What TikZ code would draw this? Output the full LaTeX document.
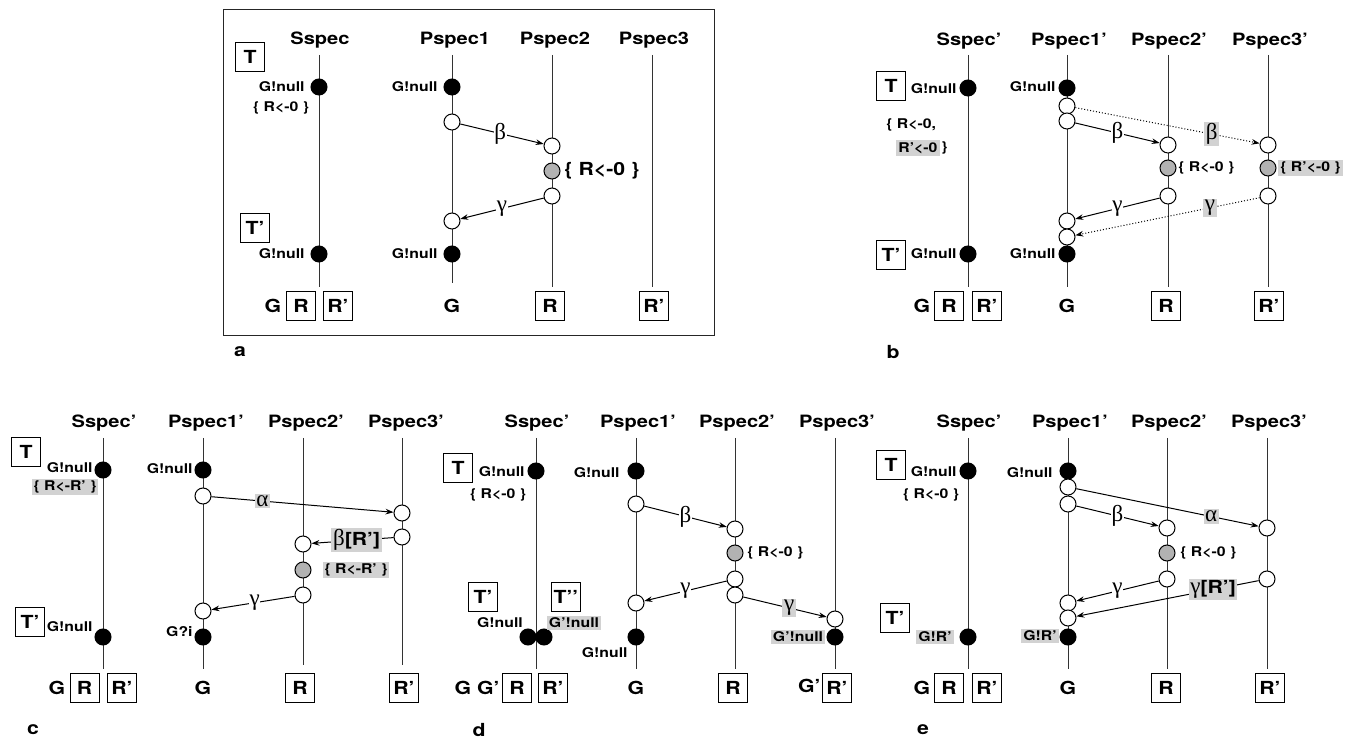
\documentclass[tikz,border=0pt]{standalone}
\usepackage{fontspec}
\usepackage{graphicx}
\newfontfamily\hfont{TeX Gyre Heros}
\newfontfamily\gfont{Liberation Serif}
\usetikzlibrary{arrows.meta}
\newcommand\hdrf{\hfont\bfseries\fontsize{8.5}{10}\selectfont}
\newcommand\bigf{\hfont\bfseries\fontsize{9}{10}\selectfont}
\newcommand\smf{\hfont\bfseries\fontsize{6.7}{8}\selectfont}
\newcommand\gkf{\gfont\fontsize{11.5}{12}\selectfont}
\newsavebox\stbox
\newcommand\widetx[1]{\scalebox{1.18}[1]{#1}}
\begin{document}
\begin{tikzpicture}[x=0.5pt,y=-0.5pt,
  xwide/.style={execute at begin node={\begin{lrbox}{\stbox}}, execute at end node={\end{lrbox}\scalebox{1.18}[1]{\usebox{\stbox}}}},
  life/.style={line width=0.5pt, black!80},
  fc/.style={circle, draw, fill=black, minimum size=8pt, inner sep=0pt, line width=0.5pt},
  oc/.style={circle, draw, fill=white, minimum size=8pt, inner sep=0pt, line width=0.5pt},
  sc/.style={oc, fill=gray!60},
  bx/.style={draw, line width=0.5pt, minimum width=14.5pt, minimum height=14.5pt, inner sep=0pt, font=\bigf, xwide},
  hdr/.style={font=\hdrf, inner sep=0pt, xwide},
  big/.style={font=\bigf, inner sep=0pt, xwide},
  sm/.style={font=\smf, inner sep=0.5pt, xwide},
  hl/.style={fill=gray!35, inner sep=1pt},
  msg/.style={line width=0.5pt, -{Stealth[length=4pt,width=2.8pt]}},
  dmsg/.style={msg, densely dotted},
  gk/.style={font=\gkf, fill=white, inner sep=0.3pt},
  gkh/.style={font=\gkf, fill=gray!35, inner sep=0.8pt}]
\useasboundingbox (0,0) rectangle (1367,742);

% lifelines
\foreach \n/\x/\ya/\yb in {aS/319/55/287, aP/452/55/283, aQ/552/55/287, aR/652/55/287,
  bS/968/55/287, bP/1067/55/287, bQ/1168/55/287, bR/1268/55/287,
  cS/103/438/669, cP/203/438/669, cQ/303/438/665, cR/402/438/665,
  dS/536/438/669, dP/636/438/669, dQ/735/438/669, dR/835/438/669,
  eS/968/438/669, eP/1068/438/669, eQ/1167/438/669, eR/1267/438/669}{
  \coordinate (\n top) at (\x,\ya);
  \coordinate (\n bot) at (\x,\yb);
  \draw[life] (\n top) -- (\n bot);
}

%%%%%%%%%%%%%%%% panel a
\draw[line width=0.5pt, black!85] (223,10) rectangle (714,336);
\node[hdr] (aHS) at (320,40) {Sspec};
\node[hdr] (aHP) at (455,40) {Pspec1};
\node[hdr] (aHQ) at (555,40) {Pspec2};
\node[hdr] (aHR) at (654,40) {Pspec3};
\node[bx] (aT) at (250,57) {T};
\node[bx] (aTp) at (255,228) {T’};
\node[fc] (aS1) at (319,87) {};
\node[sm, anchor=east] (aS1l) at (306,87) {G!null};
\node[sm] (aS1r) at (281,108) {\{ R<-0 \}};
\node[fc] (aS2) at (319,254) {};
\node[sm, anchor=east] (aS2l) at (306,254) {G!null};
\node[fc] (aP1) at (452,87) {};
\node[sm, anchor=east] (aP1l) at (439,87) {G!null};
\node[oc] (aP2) at (452,122) {};
\node[oc] (aP3) at (452,221) {};
\node[fc] (aP4) at (452,254) {};
\node[sm, anchor=east] (aP4l) at (439,254) {G!null};
\node[oc] (aQ1) at (552,146) {};
\node[sc] (aQ2) at (552,171) {};
\node[oc] (aQ3) at (552,196) {};
\node[big, anchor=west] (aQ2l) at (564,171) {\{ R<-0 \}};
\draw[msg] (aP2) -- node[gk, pos=0.48] (aBeta) {β} (aQ1);
\draw[msg] (aQ3) -- node[gk, pos=0.5] (aGam) {γ} (aP3);
\node[big] (aG1) at (273,306) {G};
\node[bx] (aR1) at (301,306) {R};
\node[bx] (aR2) at (338,306) {R’};
\node[big] (aG2) at (452,306) {G};
\node[bx] (aR3) at (550,306) {R};
\node[bx] (aR4) at (654,306) {R’};
\node[big] (alab) at (240,352) {a};

%%%%%%%%%%%%%%%% panel b
\node[hdr] (bHS) at (969,41) {Sspec’};
\node[hdr] (bHP) at (1069,41) {Pspec1’};
\node[hdr] (bHQ) at (1169,41) {Pspec2’};
\node[hdr] (bHR) at (1270,41) {Pspec3’};
\node[bx] (bT) at (891,86) {T};
\node[bx] (bTp) at (891,255) {T’};
\node[fc] (bS1) at (968,88) {};
\node[sm, anchor=east] (bS1l) at (958,89) {G!null};
\node[sm, anchor=west] (bS1r) at (885,125) {\{ R<-0,};
\node[sm, hl, anchor=west] (bS1s) at (896,148) {R’<-0};
\node[sm, anchor=west] (bS1t) at (bS1s.east) {\}};
\node[fc] (bS2) at (968,254) {};
\node[sm, anchor=east] (bS2l) at (958,254) {G!null};
\node[fc] (bP1) at (1067,88) {};
\node[sm, anchor=east] (bP1l) at (1057,87) {G!null};
\node[oc] (bP2) at (1067,106) {};
\node[oc] (bP3) at (1067,121) {};
\node[oc] (bP4) at (1067,221) {};
\node[oc] (bP5) at (1067,237) {};
\node[fc] (bP6) at (1067,254) {};
\node[sm, anchor=east] (bP6l) at (1057,254) {G!null};
\node[oc] (bQ1) at (1168,145) {};
\node[sc] (bQ2) at (1168,168) {};
\node[oc] (bQ3) at (1168,196) {};
\node[sm, anchor=west] (bQ2l) at (1177,168) {\{ R<-0 \}};
\node[oc] (bR1) at (1268,145) {};
\node[sc] (bR2) at (1268,168) {};
\node[oc] (bR3) at (1268,196) {};
\node[sm, hl, anchor=west] (bR2l) at (1278,168) {\{ R’<-0 \}};
\draw[dmsg] (bP2) -- node[gkh, pos=0.74] (bBeta2) {β} (bR1);
\draw[msg] (bP3) -- node[gk, pos=0.5] (bBeta) {β} (bQ1);
\draw[msg] (bQ3) -- node[gk, pos=0.5] (bGam) {γ} (bP4);
\draw[dmsg] (bR3) -- node[gkh, pos=0.27] (bGam2) {γ} (bP5);
\node[big] (bG1) at (922,306) {G};
\node[bx] (bR1b) at (949,306) {R};
\node[bx] (bR2b) at (987,306) {R’};
\node[big] (bG2) at (1067,306) {G};
\node[bx] (bR3b) at (1166,306) {R};
\node[bx] (bR4b) at (1269,306) {R’};
\node[big] (blab) at (893,352) {b};

%%%%%%%%%%%%%%%% panel c
\node[hdr] (cHS) at (104,423) {Sspec’};
\node[hdr] (cHP) at (206,423) {Pspec1’};
\node[hdr] (cHQ) at (306,423) {Pspec2’};
\node[hdr] (cHR) at (406,423) {Pspec3’};
\node[bx] (cT) at (26,452) {T};
\node[bx] (cTp) at (30,622) {T’};
\node[fc] (cS1) at (103,470) {};
\node[sm, anchor=east] (cS1l) at (94,468) {G!null};
\node[sm, hl] (cS1r) at (65,487) {\{ R<-R’ \}};
\node[fc] (cS2) at (103,637) {};
\node[sm, anchor=east] (cS2l) at (94,627) {G!null};
\node[fc] (cP1) at (203,470) {};
\node[sm, anchor=east] (cP1l) at (194,469) {G!null};
\node[oc] (cP2) at (203,496) {};
\node[oc] (cP3) at (203,611) {};
\node[fc] (cP4) at (203,637) {};
\node[sm, anchor=east] (cP4l) at (194,632) {G?i};
\node[oc] (cR1) at (402,513) {};
\node[oc] (cR2) at (402,537) {};
\node[oc] (cQ1) at (303,544) {};
\node[sc] (cQ2) at (303,570) {};
\node[oc] (cQ3) at (303,595) {};
\node[sm, hl] (cQ2l) at (356,570) {\{ R<-R’ \}};
\draw[msg] (cP2) -- node[gkh, pos=0.28] (cAlp) {α} (cR1);
\draw[msg] (cR2) -- node[gkh, pos=0.45] (cBeta) {β\widetx{\bigf[R’]}} (cQ1);
\draw[msg] (cQ3) -- node[gk, pos=0.48] (cGam) {γ} (cP3);
\node[big] (cG1) at (57,688) {G};
\node[bx] (cR1b) at (84.5,688) {R};
\node[bx] (cR2b) at (122,688) {R’};
\node[big] (cG2) at (203,688) {G};
\node[bx] (cR3b) at (300,688) {R};
\node[bx] (cR4b) at (404,688) {R’};
\node[big] (clab) at (33,730) {c};

%%%%%%%%%%%%%%%% panel d
\node[hdr] (dHS) at (537,423) {Sspec’};
\node[hdr] (dHP) at (638,423) {Pspec1’};
\node[hdr] (dHQ) at (737,423) {Pspec2’};
\node[hdr] (dHR) at (837,423) {Pspec3’};
\node[bx] (dT) at (458,468) {T};
\node[bx] (dTp) at (483,597) {T’};
\node[bx] (dTpp) at (566,597) {T’’};
\node[fc] (dS1) at (536,471) {};
\node[sm, anchor=east] (dS1l) at (526,472) {G!null};
\node[sm] (dS1r) at (498,495) {\{ R<-0 \}};
\node[fc] (dS2) at (528,637) {};
\node[fc] (dS3) at (544,637) {};
\node[sm] (dS2l) at (500,623) {G!null};
\node[sm, hl] (dS3l) at (574,623) {G’!null};
\node[fc] (dP1) at (636,471) {};
\node[sm, anchor=east] (dP1l) at (621,473) {G!null};
\node[oc] (dP2) at (636,504) {};
\node[oc] (dP3) at (636,603) {};
\node[fc] (dP4) at (636,637) {};
\node[sm, anchor=east] (dP4l) at (629,653) {G!null};
\node[oc] (dQ1) at (735,529) {};
\node[sc] (dQ2) at (735,553) {};
\node[oc] (dQ3) at (735,579) {};
\node[oc] (dQ4) at (735,595) {};
\node[sm, anchor=west] (dQ2l) at (746,553) {\{ R<-0 \}};
\node[oc] (dR1) at (835,619) {};
\node[fc] (dR2) at (835,637) {};
\node[sm, hl] (dR2l) at (798,637) {G’!null};
\draw[msg] (dP2) -- node[gk, pos=0.5] (dBeta) {β} (dQ1);
\draw[msg] (dQ3) -- node[gk, pos=0.5] (dGam) {γ} (dP3);
\draw[msg] (dQ4) -- node[gkh, pos=0.55] (dGam2) {γ} (dR1);
\node[big, anchor=east] (dG1) at (500,688) {G G’};
\node[bx] (dR1b) at (517,688) {R};
\node[bx] (dR2b) at (553,688) {R’};
\node[big] (dG2) at (636,688) {G};
\node[bx] (dR3b) at (733,688) {R};
\node[big, anchor=east] (dG3) at (821,686) {G’};
\node[bx] (dR4b) at (837,688) {R’};
\node[big] (dlab) at (479,730) {d};

%%%%%%%%%%%%%%%% panel e
\node[hdr] (eHS) at (969,423) {Sspec’};
\node[hdr] (eHP) at (1070,423) {Pspec1’};
\node[hdr] (eHQ) at (1169,423) {Pspec2’};
\node[hdr] (eHR) at (1269,423) {Pspec3’};
\node[bx] (eT) at (891,465) {T};
\node[bx] (eTp) at (895,618) {T’};
\node[fc] (eS1) at (968,471) {};
\node[sm, anchor=east] (eS1l) at (958,472) {G!null};
\node[sm] (eS1r) at (931,495) {\{ R<-0 \}};
\node[fc] (eS2) at (968,637) {};
\node[sm, hl] (eS2l) at (935,637) {G!R’};
\node[fc] (eP1) at (1068,471) {};
\node[sm, anchor=east] (eP1l) at (1054,473) {G!null};
\node[oc] (eP2) at (1068,487) {};
\node[oc] (eP3) at (1068,504) {};
\node[oc] (eP4) at (1068,603) {};
\node[oc] (eP5) at (1068,618) {};
\node[fc] (eP6) at (1068,637) {};
\node[sm, hl] (eP6l) at (1040,636) {G!R’};
\node[oc] (eQ1) at (1167,528) {};
\node[sc] (eQ2) at (1167,553) {};
\node[oc] (eQ3) at (1167,579) {};
\node[sm, anchor=west] (eQ2l) at (1179,553) {\{ R<-0 \}};
\node[oc] (eR1) at (1267,528) {};
\node[oc] (eR2) at (1267,579) {};
\draw[msg] (eP2) -- node[gkh, pos=0.74] (eAlp) {α} (eR1);
\draw[msg] (eP3) -- node[gk, pos=0.5] (eBeta) {β} (eQ1);
\draw[msg] (eQ3) -- node[gk, pos=0.5] (eGam) {γ} (eP4);
\draw[msg] (eR2) -- node[gkh, pos=0.25] (eGam2) {γ\widetx{\bigf[R’]}} (eP5);
\node[big] (eG1) at (922,688) {G};
\node[bx] (eR1b) at (949,688) {R};
\node[bx] (eR2b) at (987,688) {R’};
\node[big] (eG2) at (1068,688) {G};
\node[bx] (eR3b) at (1166,688) {R};
\node[bx] (eR4b) at (1270,688) {R’};
\node[big] (elab) at (923,730) {e};
\end{tikzpicture}
\end{document}
